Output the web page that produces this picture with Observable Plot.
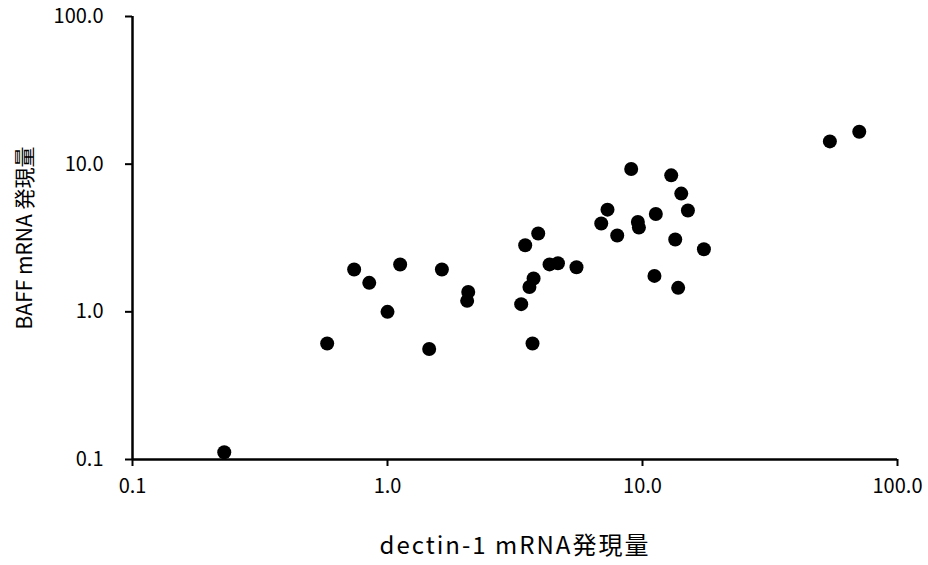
<!DOCTYPE html>
<html>
<head>
<meta charset="utf-8">
<script src="https://cdn.jsdelivr.net/npm/d3@7"></script>
<script src="https://cdn.jsdelivr.net/npm/@observablehq/plot@0.6"></script>
<style>
  body { margin: 0; background: #fff; }
  svg { font-family: "Noto Sans CJK JP", "Liberation Sans", sans-serif; }
</style>
</head>
<body>
<div id="chart"></div>
<script>
// dectin-1 mRNA expression (x) vs BAFF mRNA expression (y)
const dectin1 = [
  0.229, 0.580, 0.740, 0.848, 1.00, 1.121, 1.457, 1.634, 2.073, 2.053,
  3.344, 3.467, 3.90, 4.32, 3.74, 3.602, 3.704, 4.66, 5.51,
  54.3, 70.8, 9.03, 12.96, 14.19, 15.07, 11.28, 7.29, 6.89, 9.59, 9.68,
  7.96, 13.44, 17.41, 11.14, 13.80
];
const baff = [
  0.112, 0.611, 1.935, 1.571, 1.00, 2.092, 0.560, 1.935, 1.365, 1.187,
  1.127, 2.825, 3.395, 2.095, 1.682, 1.473, 0.611, 2.135, 2.006,
  14.26, 16.59, 9.27, 8.40, 6.32, 4.85, 4.60, 4.92, 3.96, 4.06, 3.72,
  3.29, 3.09, 2.655, 1.751, 1.453
];
const tickValues = [0.1, 1, 10, 100];
const xTitle = "dectin-1 mRNA発現量";
const yTitle = "BAFF mRNA 発現量";

const data = dectin1.map((x, i) => ({x, y: baff[i]}));
const fmt = d3.format(".1f");

const chart = Plot.plot({
  width: 928,
  height: 565,
  marginLeft: 132,
  marginRight: 31,
  marginTop: 16,
  marginBottom: 106,
  style: {fontSize: "20px", fontFamily: "'Noto Sans CJK JP', 'Liberation Sans', sans-serif", color: "#000"},
  x: {type: "log", domain: [0.1, 100]},
  y: {type: "log", domain: [0.1, 100]},
  marks: [
    Plot.axisX({ticks: tickValues, tickFormat: fmt, tickSize: 7, tickPadding: 12, strokeWidth: 2,
      label: xTitle, labelAnchor: "center", labelArrow: "none", labelOffset: 94, fontSize: 20}),
    Plot.axisY({ticks: tickValues, tickFormat: fmt, tickSize: 7, tickPadding: 22, strokeWidth: 2,
      label: yTitle, labelAnchor: "center", labelArrow: "none", labelOffset: 115, fontSize: 20}),
    Plot.ruleX([0.1], {stroke: "#000", strokeWidth: 2.5}),
    Plot.ruleY([0.1], {stroke: "#000", strokeWidth: 2.5}),
    Plot.dot(data, {x: "x", y: "y", r: 7, fill: "#000", stroke: "none"})
  ]
});
chart.querySelectorAll("[aria-label='y-axis label'] text").forEach(el => {
  el.style.fontSize = "21px";
});
chart.querySelectorAll("[aria-label='x-axis label'] text").forEach(el => {
  el.style.fontSize = "24px";
  el.style.letterSpacing = "2px";
});
document.getElementById("chart").appendChild(chart);
</script>
</body>
</html>
